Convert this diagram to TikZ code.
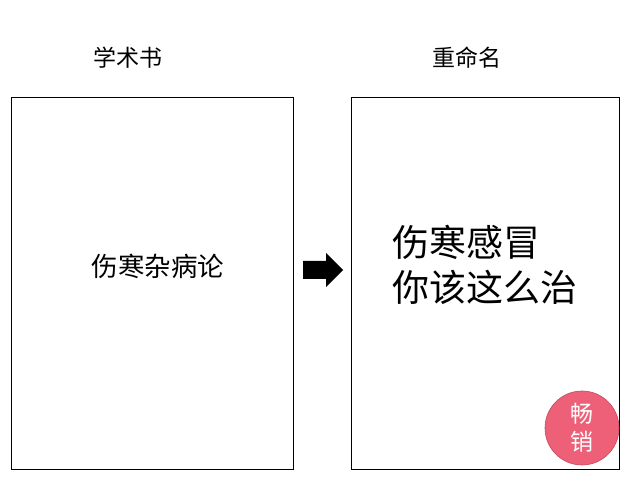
\documentclass[tikz,border=0pt]{standalone}
\usepackage{fontspec}
\setmainfont{Noto Sans CJK SC}
\usetikzlibrary{positioning}
\definecolor{badgered}{HTML}{EE6077}
\definecolor{badgeedge}{HTML}{C04A5E}

\begin{document}
\begin{tikzpicture}[x=1pt,y=-1pt,
   every node/.style={inner sep=0pt},
   cover/.style={draw,line width=0.8pt},
   heading/.style={font=\fontsize{23}{27}\selectfont}]
  \useasboundingbox (0,0) rectangle (630,494);
  % book covers
  \node[cover,minimum width=282,minimum height=372] (old) at (152,283) {};
  \node[cover,minimum width=268,minimum height=372] (new) at (485,283) {};
  \node[heading] (oldtitle) at (128,58) {学术书};
  \node[heading] (newtitle) at (467,58) {重命名};
  \node[font=\fontsize{26.5}{30}\selectfont] (oldname) at (158,266) {伤寒杂病论};
  \node[font=\fontsize{37}{45}\selectfont,align=left,anchor=west] (newname) at (392,265)
    {伤寒感冒\\你该这么治};
  % arrow between covers
  \fill (303,261) -- (326,261) -- (326,253) -- (343,270) -- (326,287) -- (326,279) -- (303,279) -- cycle;
  % badge
  \node[circle,fill=badgered,draw=badgeedge,line width=0.6pt,minimum size=74,
    text=white,align=center,font=\fontsize{23}{28}\selectfont] (badge) at (582,428) {畅\\销};
\end{tikzpicture}
\end{document}
